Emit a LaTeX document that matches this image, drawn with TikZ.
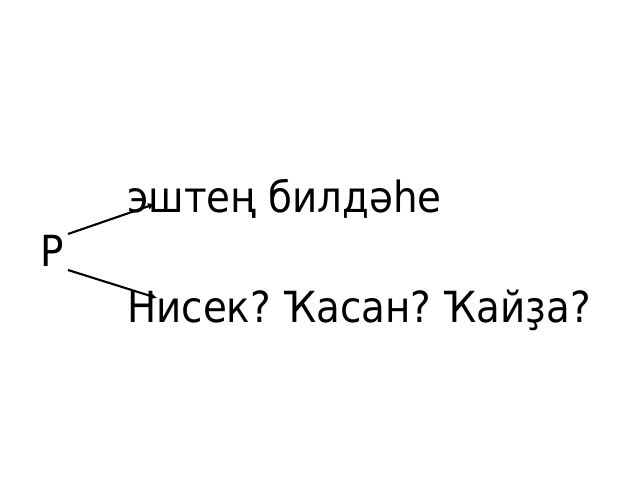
\documentclass[tikz,border=0pt]{standalone}
\usepackage{fontspec}
\setmainfont[FakeStretch=0.905]{DejaVu Sans}
\frenchspacing
\usetikzlibrary{
  arrows.meta, % for arrow tips
  positioning
}
\tikzstyle{wordnode} = [inner sep=0pt, anchor=base west, font=\fontsize{30.5}{36}\selectfont]
\tikzstyle{pointer} = [draw, line width=1.5pt, -{Triangle[open,length=5pt,width=4pt]}]
\begin{document}
\begin{tikzpicture}
\useasboundingbox (0,0) rectangle (16,12);
  % the letter and its two meanings
\node[wordnode](letterp) at (1.0,5.33) {Р};
\node[wordnode](meaning) at (3.175,6.7) {эштең билдәһе};
\node[wordnode](question) at (3.175,3.95) {Нисек? Ҡасан? Ҡайҙа?};
\coordinate (upstart) at (1.7,6.15);
\coordinate (upend) at (3.875,6.9);
\coordinate (downstart) at (1.7,5.25);
\coordinate (downend) at (3.925,4.55);
\draw[pointer] (upstart) -- (upend);
\draw[pointer] (downstart) -- (downend);
\end{tikzpicture}
\end{document}
